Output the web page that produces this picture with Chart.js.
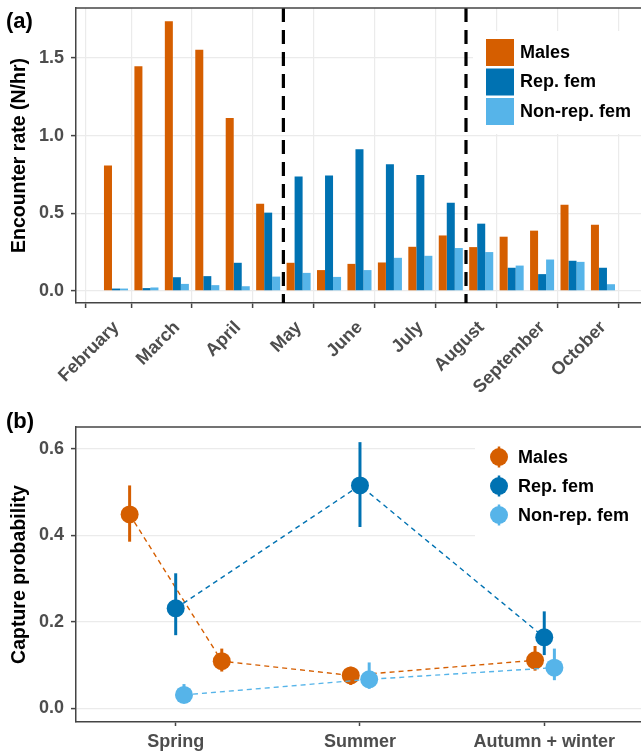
<!DOCTYPE html>
<html>
<head>
<meta charset="utf-8">
<script src="https://cdn.jsdelivr.net/npm/chart.js@4.4.0/dist/chart.umd.min.js"></script>
<style>
  body { margin: 0; background: #fff; }
  #wrap { position: relative; width: 641px; height: 752px; }
  canvas { position: absolute; left: 0; }
</style>
</head>
<body>
<div id="wrap">
  <canvas id="rates" width="641" height="400" style="top:0"></canvas>
  <canvas id="capture" width="641" height="352" style="top:400px"></canvas>
</div>
<script>
// (a) encounter rate by half-month period
const halfMonths = ['Feb-1', 'Feb-2', 'Mar-1', 'Mar-2', 'Apr-1', 'Apr-2', 'May-1', 'May-2', 'Jun-1',
                    'Jun-2', 'Jul-1', 'Jul-2', 'Aug-1', 'Aug-2', 'Sep-1', 'Sep-2', 'Oct-1'];
const males  = [0.807, 1.447, 1.736, 1.553, 1.113, 0.562, 0.181, 0.134, 0.174, 0.183, 0.284, 0.357, 0.282, 0.349, 0.388, 0.554, 0.426];
const repFem = [0.015, 0.018, 0.088, 0.095, 0.181, 0.504, 0.736, 0.743, 0.913, 0.816, 0.747, 0.568, 0.433, 0.149, 0.108, 0.194, 0.149];
const nonRep = [0.015, 0.022, 0.045, 0.037, 0.030, 0.092, 0.116, 0.090, 0.134, 0.213, 0.226, 0.276, 0.250, 0.163, 0.202, 0.187, 0.043];
const monthTicks  = [-1, 0.5, 2.5, 4.5, 6.5, 8.5, 10.5, 12.5, 14.5, 16.5];
const monthLabels = ['', 'February', 'March', 'April', 'May', 'June', 'July', 'August', 'September', 'October'];
const seasonBreaks = [5.5, 11.5];
const rateTicks = [0, 0.5, 1.0, 1.5];

// (b) capture probability by season
const seasons = ['Spring', 'Summer', 'Autumn + winter'];
const seasonTicks = [0, 1, 2];
const capTicks = [0, 0.2, 0.4, 0.6];
const malesX  = [-0.25, 0.25, 0.95, 1.95];
const malesP  = [0.448, 0.109, 0.076, 0.111];
const malesLo = [0.385, 0.085, 0.054, 0.087];
const malesHi = [0.515, 0.138, 0.096, 0.144];
const repX  = [0, 1, 2];
const repP  = [0.231, 0.515, 0.164];
const repLo = [0.169, 0.419, 0.123];
const repHi = [0.312, 0.615, 0.224];
const nonX  = [0.045, 1.05, 2.055];
const nonP  = [0.031, 0.067, 0.094];
const nonLo = [0.015, 0.045, 0.065];
const nonHi = [0.056, 0.106, 0.138];

const groups = ['Males', 'Rep. fem', 'Non-rep. fem'];
const colors = ['#D55E00', '#0072B2', '#56B4E9'];

Chart.defaults.font.family = '"Liberation Sans", Arial, sans-serif';
Chart.defaults.font.weight = 'bold';

const GRID = '#ebebeb';
const AXIS = '#444';
const TICKTXT = '#4d4d4d';

function pts(xs, ys) {
    return xs.map((x, i) => ({ x: x, y: ys[i] }));
}

// fixed axis boxes, no extra label padding
function fixY(s) { s.width = 76; s.paddingTop = 0; s.paddingBottom = 0; }
function fixX(h) {
    return s => { s.height = h; s.paddingLeft = 0; s.paddingRight = 0; };
}

// frame top line + panel tag
function framePlugin(tag) {
    return {
        id: 'frame',
        afterDraw(chart) {
            const { ctx, chartArea: a } = chart;
            ctx.save();
            ctx.strokeStyle = AXIS;
            ctx.lineWidth = 1.5;
            ctx.beginPath();
            ctx.moveTo(a.left, a.top);
            ctx.lineTo(a.right, a.top);
            ctx.stroke();
            ctx.fillStyle = '#000';
            ctx.font = 'bold 22px "Liberation Sans", Arial, sans-serif';
            ctx.textBaseline = 'alphabetic';
            ctx.fillText(tag, 6, 28);
            ctx.restore();
        }
    };
}

const breaksPlugin = {
    id: 'breaks',
    afterDatasetsDraw(chart) {
        const { ctx, chartArea: a, scales: { x } } = chart;
        ctx.save();
        ctx.strokeStyle = '#000';
        ctx.lineWidth = 3.2;
        ctx.setLineDash([14, 8]);
        seasonBreaks.forEach(v => {
            const px = x.getPixelForValue(v);
            ctx.beginPath();
            ctx.moveTo(px, a.top);
            ctx.lineTo(px, a.bottom);
            ctx.stroke();
        });
        ctx.restore();
    }
};

const barLegend = {
    id: 'barLegend',
    afterDraw(chart) {
        const { ctx } = chart;
        ctx.save();
        ctx.fillStyle = '#fff';
        ctx.fillRect(473, 31, 168, 103);
        ctx.font = 'bold 18px "Liberation Sans", Arial, sans-serif';
        ctx.textBaseline = 'middle';
        groups.forEach((g, i) => {
            const y = 39 + i * 29.5;
            ctx.fillStyle = colors[i];
            ctx.fillRect(486, y, 28, 27);
            ctx.fillStyle = '#000';
            ctx.fillText(g, 520, y + 14);
        });
        ctx.restore();
    }
};

new Chart(document.getElementById('rates'), {
    type: 'bar',
    data: {
        datasets: groups.map((g, i) => ({
            label: g,
            data: pts(halfMonths.map((h, j) => j), [males, repFem, nonRep][i]),
            backgroundColor: colors[i],
            borderWidth: 0
        }))
    },
    options: {
        responsive: false,
        animation: false,
        layout: { padding: { top: 8, right: 0, left: 0, bottom: 0 } },
        plugins: { legend: { display: false }, tooltip: { enabled: false } },
        datasets: { bar: { categoryPercentage: 0.79, barPercentage: 1 } },
        scales: {
            x: {
                type: 'linear', min: -1.314, max: 17.25, offset: false,
                afterBuildTicks: s => { s.ticks = monthTicks.map(v => ({ value: v })); },
                afterFit: fixX(97),
                ticks: {
                    autoSkip: false, minRotation: 45, maxRotation: 45, padding: 9, labelOffset: -15,
                    color: TICKTXT, font: { size: 18, weight: 'bold' },
                    callback: (v, i) => monthLabels[i]
                },
                grid: { color: GRID, lineWidth: 1.2, offset: false, tickLength: 5, tickColor: AXIS, tickWidth: 1.5 },
                border: { color: AXIS, width: 1.5 }
            },
            y: {
                min: -0.078, max: 1.822,
                afterBuildTicks: s => { s.ticks = rateTicks.map(v => ({ value: v })); },
                afterFit: fixY,
                ticks: { padding: 7, color: TICKTXT, font: { size: 18, weight: 'bold' }, callback: v => v.toFixed(1) },
                title: { display: true, text: 'Encounter rate (N/hr)', color: '#000', font: { size: 19.5, weight: 'bold' }, padding: { top: 8, bottom: 0 } },
                grid: { color: GRID, lineWidth: 1.2, tickLength: 5, tickColor: AXIS, tickWidth: 1.5 },
                border: { color: AXIS, width: 1.5 }
            }
        }
    },
    plugins: [framePlugin('(a)'), breaksPlugin, barLegend]
});

// error bars drawn right after each dataset
const errorBars = {
    id: 'errorBars',
    afterDatasetDraw(chart, args) {
        const ds = chart.data.datasets[args.index];
        if (!ds.lo) return;
        const { ctx, scales: { x, y } } = chart;
        ctx.save();
        ctx.strokeStyle = ds.borderColor;
        ctx.lineWidth = 3;
        ds.data.forEach((p, i) => {
            const px = x.getPixelForValue(p.x);
            ctx.beginPath();
            ctx.moveTo(px, y.getPixelForValue(ds.lo[i]));
            ctx.lineTo(px, y.getPixelForValue(ds.hi[i]));
            ctx.stroke();
        });
        // points on top of their own bars
        ctx.fillStyle = ds.borderColor;
        ds.data.forEach(p => {
            ctx.beginPath();
            ctx.arc(x.getPixelForValue(p.x), y.getPixelForValue(p.y), 9, 0, Math.PI * 2);
            ctx.fill();
        });
        ctx.restore();
    }
};

const pointLegend = {
    id: 'pointLegend',
    afterDraw(chart) {
        const { ctx } = chart;
        ctx.save();
        ctx.fillStyle = '#fff';
        ctx.fillRect(475, 30, 166, 108);
        ctx.font = 'bold 18px "Liberation Sans", Arial, sans-serif';
        ctx.textBaseline = 'middle';
        groups.forEach((g, i) => {
            const y = 57 + i * 29;
            ctx.strokeStyle = colors[i];
            ctx.fillStyle = colors[i];
            ctx.lineWidth = 2.5;
            ctx.beginPath();
            ctx.moveTo(499, y - 10.5);
            ctx.lineTo(499, y + 10.5);
            ctx.stroke();
            ctx.beginPath();
            ctx.arc(499, y, 9, 0, Math.PI * 2);
            ctx.fill();
            ctx.fillStyle = '#000';
            ctx.fillText(g, 518, y + 1);
        });
        ctx.restore();
    }
};

const capSeries = [
    [malesX, malesP, malesLo, malesHi],
    [repX, repP, repLo, repHi],
    [nonX, nonP, nonLo, nonHi]
];

new Chart(document.getElementById('capture'), {
    type: 'line',
    data: {
        datasets: groups.map((g, i) => ({
            label: g,
            data: pts(capSeries[i][0], capSeries[i][1]),
            lo: capSeries[i][2],
            hi: capSeries[i][3],
            borderColor: colors[i],
            backgroundColor: colors[i],
            borderWidth: 1.4,
            borderDash: [5, 4],
            pointRadius: 0,
            tension: 0,
            order: 3 - i
        }))
    },
    options: {
        responsive: false,
        animation: false,
        layout: { padding: { top: 27, right: 0, left: 0, bottom: 0 } },
        plugins: { legend: { display: false }, tooltip: { enabled: false } },
        scales: {
            x: {
                type: 'linear', min: -0.541, max: 2.525,
                afterBuildTicks: s => { s.ticks = seasonTicks.map(v => ({ value: v })); },
                afterFit: fixX(30),
                ticks: { autoSkip: false, maxRotation: 0, padding: 5, color: TICKTXT, font: { size: 18, weight: 'bold' }, callback: (v, i) => seasons[i] },
                grid: { drawOnChartArea: false, tickLength: 4, tickColor: AXIS, tickWidth: 1.5 },
                border: { color: AXIS, width: 1.5 }
            },
            y: {
                min: -0.0316, max: 0.65,
                afterBuildTicks: s => { s.ticks = capTicks.map(v => ({ value: v })); },
                afterFit: fixY,
                ticks: { padding: 7, color: TICKTXT, font: { size: 18, weight: 'bold' }, callback: v => v.toFixed(1) },
                title: { display: true, text: 'Capture probability', color: '#000', font: { size: 19.5, weight: 'bold' }, padding: { top: 8, bottom: 0 } },
                grid: { color: GRID, lineWidth: 1.2, tickLength: 5, tickColor: AXIS, tickWidth: 1.5 },
                border: { color: AXIS, width: 1.5 }
            }
        }
    },
    plugins: [framePlugin('(b)'), errorBars, pointLegend]
});
</script>
</body>
</html>
